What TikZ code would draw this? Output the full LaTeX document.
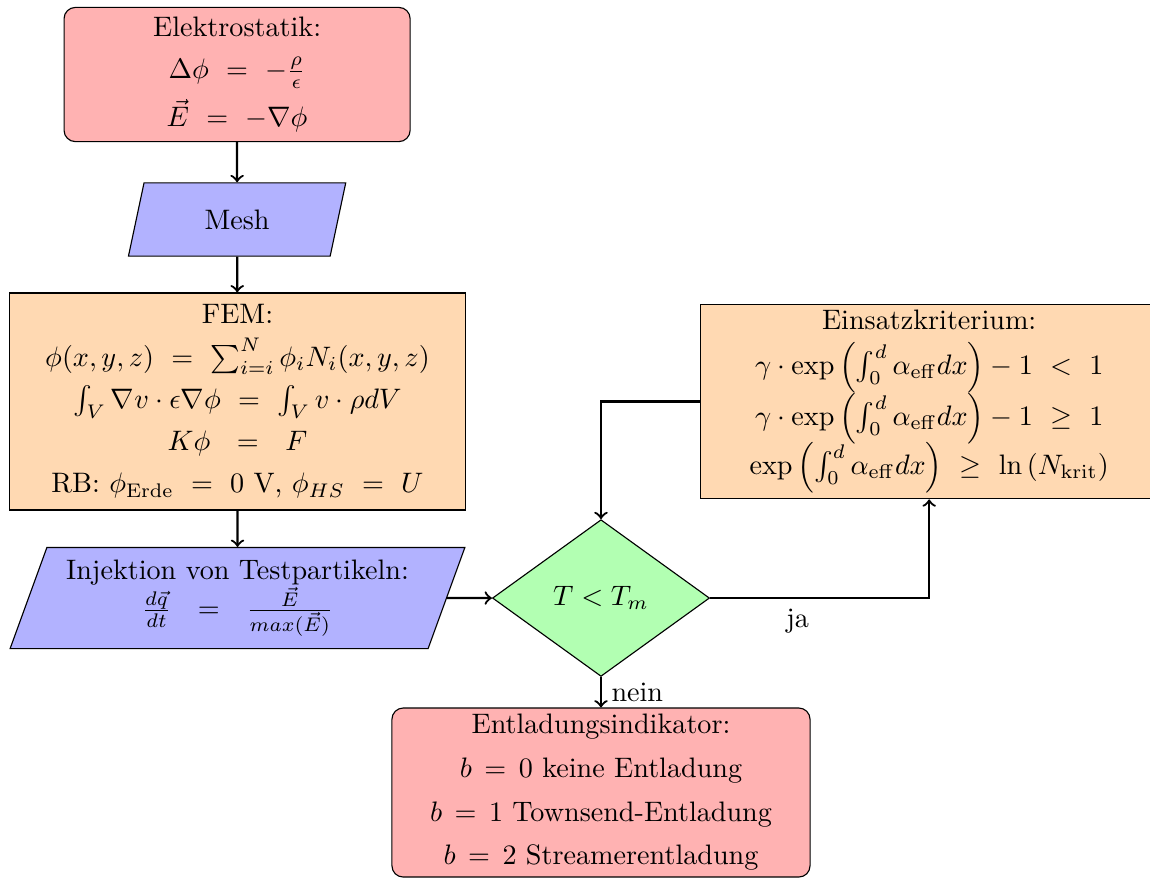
\documentclass[tikz,border=0pt]{standalone}
\usepackage{amssymb}
\usepackage{mathtools}
\usepackage{tikz}
\usepackage{xcolor}
\usetikzlibrary{arrows, shapes.geometric, calc}

\tikzset{
    startende/.style={rectangle, rounded corners, draw, fill=red!30, align=center},
    eingabe/.style={trapezium, trapezium left angle=70, trapezium right angle=110, draw, fill=blue!30, align=center},
    prozess/.style={rectangle, draw, fill=orange!30, align=center, minimum width=5.7cm},
    abfrage/.style={diamond, draw, fill=green!30, align=center},
}

\begin{document}
\begin{tikzpicture}
                            \useasboundingbox (0, 0) rectangle (14.357, -10.949);

                            \node[startende, minimum width=4.32cm, minimum height=1.64cm] (elektro) at (2.96, -0.93) {Elektrostatik:\\[3pt] $\Delta\phi\ =\ -\frac{\rho}{\epsilon}$\\[3pt] $\vec{E}\ =\ -\nabla\phi$};
                            \node[eingabe, trapezium left angle=78, trapezium right angle=102, inner xsep=21.5pt, inner ysep=9.5pt] (mesh) at (2.96, -2.74) {Mesh};
                            \node[prozess, minimum height=2.71cm] (fem) at (2.965, -5.012) {FEM:\\[3pt] $\phi(x,y,z)\ =\ \sum_{i=i}^{N}\phi_i N_i(x,y,z)$\\[3pt] $\int_V \nabla v\cdot\epsilon\nabla\phi\ =\ \int_V v\cdot\rho dV$\\[3pt] $K\phi\ \ =\ \ F$\\[3pt] RB: $\phi_{\mathrm{Erde}}\ =\ 0$ V, $\phi_{HS}\ =\ U$};
                            \node[eingabe, minimum width=5.69cm, minimum height=1.265cm] (injektion) at (2.965, -7.466) {Injektion von Testpartikeln:\\ $\frac{d\vec{q}}{dt}\ \ =\ \ \frac{\vec{E}}{max(\vec{E})}$};
                            \node[abfrage, minimum width=2.71cm, minimum height=1.92cm] (abfrage) at (7.503, -7.466) {$T<T_m$};
                            \node[prozess, minimum height=2.43cm, inner ysep=1.5pt] (einsatz) at (11.6, -5.012) {Einsatzkriterium:\\[4pt] $\gamma\cdot\exp\left(\int_0^d\alpha_{\mathrm{eff}}dx\right)-1\ <\ 1$\\[-1pt] $\gamma\cdot\exp\left(\int_0^d\alpha_{\mathrm{eff}}dx\right)-1\ \geq\ 1$\\[-1.5pt] $\exp\left(\int_0^d\alpha_{\mathrm{eff}}dx\right)\ \geq\ \ln\left(N_{\mathrm{krit}}\right)$};
                            \node[startende, minimum width=5.22cm, minimum height=2.11cm, inner ysep=2pt] (entladung) at (7.503, -9.894) {Entladungsindikator:\\[3.5pt] $b\,=\,0$ keine Entladung\\[3.5pt] $b\,=\,1$ Townsend-Entladung\\[3.5pt] $b\,=\,2$ Streamerentladung};

                            \draw[thick]
                            (elektro) edge[->] (mesh)
                            (mesh) edge[->] (fem)
                            (fem) edge[->] (injektion)
                            (injektion) edge[->] (abfrage)
                            (abfrage) edge[->, right] node{nein} (entladung);
                            \draw[thick, ->] (abfrage.east) -| node[below, pos=0.2]{ja} (einsatz.south);
                            \draw[thick, ->] (einsatz.west) -| (abfrage.north);
                        \end{tikzpicture}
\end{document}
